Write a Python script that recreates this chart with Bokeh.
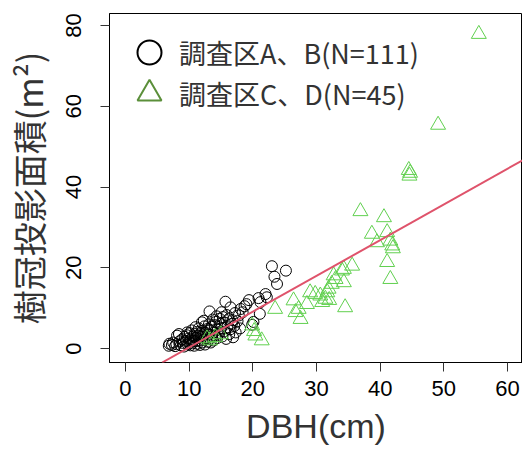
from bokeh.plotting import figure
from bokeh.models import Slope, Legend, LegendItem, FixedTicker, ColumnDataSource
from bokeh.embed import file_html
from bokeh.resources import INLINE

# --- data ---
ab_dbh = [23.0, 25.2, 23.4, 23.8, 22.0, 20.9, 21.1, 19.9, 20.1, 19.4, 19.0, 18.7, 15.7, 13.2, 22.2,
          21.2, 18.1, 16.5, 15.9, 17.2, 12.3, 14.8, 16.8, 17.8, 18.4,
          6.8, 6.9, 7.3, 7.5, 7.8, 8.0, 8.1, 8.4, 8.5, 8.7, 8.9, 9.0,
          9.2, 9.3, 9.5, 9.6, 9.7, 9.8, 9.9, 10.0, 10.1, 10.2, 10.3, 10.4, 10.5, 10.6, 10.7, 10.8, 10.9, 11.0, 11.0,
          11.1, 11.2, 11.3, 11.4, 11.5, 11.6, 11.7, 11.8, 11.9, 12.0, 12.0, 12.1, 12.2, 12.3, 12.4, 12.5, 12.6, 12.7, 12.8, 12.9,
          13.0, 13.1, 13.2, 13.3, 13.4, 13.5, 13.6, 13.7, 13.8, 13.9, 14.0, 14.1, 14.2, 14.4, 14.5, 14.7, 14.9, 15.0,
          15.2, 15.3, 15.5, 15.6, 15.8, 16.0, 16.2, 16.3, 16.5, 16.7, 16.9, 17.1, 17.3, 17.6, 18.0, 15.1, 14.3]
ab_area = [20.4, 19.3, 17.8, 16.0, 13.5, 12.5, 8.6, 5.9, 6.6, 12.0, 11.0, 10.5, 11.6, 9.2, 12.7,
           11.5, 9.8, 10.2, 8.3, 8.8, 6.9, 7.4, 7.0, 8.2, 9.0,
           0.7, 1.2, 0.9, 1.5, 0.6, 1.1, 3.2, 3.6, 1.8, 0.8, 2.3, 1.4,
           0.5, 2.9, 1.9, 3.3, 4.0, 1.0, 2.5, 1.6, 3.8, 0.8, 2.2, 4.5, 1.3, 3.0, 2.0, 0.7, 3.6, 5.3, 1.8,
           2.6, 4.1, 1.2, 3.2, 5.0, 2.0, 0.9, 3.8, 2.8, 6.5, 1.5, 4.4, 3.3, 2.2, 5.5, 1.0, 3.9, 2.6, 4.8, 1.7,
           3.5, 6.0, 2.4, 4.5, 1.5, 5.4, 3.1, 7.2, 2.0, 4.0, 5.8, 3.3, 6.6, 2.6, 4.7, 3.8, 6.1, 5.0,
           3.0, 7.8, 4.2, 6.4, 2.4, 5.3, 7.3, 3.6, 4.8, 6.1, 2.8, 5.6, 4.0, 6.8, 5.0, 9.0, 8.0]

cd_dbh = [55.5, 49.1, 44.5, 44.7, 44.6, 36.9, 40.6, 38.7, 41.1, 41.6, 39.5, 41.9, 41.1, 41.6, 35.6,
          34.3, 34.0, 32.7, 34.3, 32.4, 31.7, 30.6, 31.4, 29.8, 29.0, 30.9, 34.5, 26.4, 27.2, 26.7,
          23.5, 27.5, 31.9, 33.0, 19.9, 20.2, 20.4, 21.4, 14.1, 13.3, 12.8, 42.0, 28.5, 32.0, 15.0]
cd_area = [77.9, 55.4, 44.2, 43.5, 42.8, 34.0, 32.5, 28.4, 28.8, 26.7, 26.3, 25.5, 21.4, 17.2, 20.5,
           19.7, 19.3, 18.1, 16.4, 16.0, 13.9, 13.1, 12.3, 13.5, 13.9, 11.5, 10.2, 11.9, 9.8, 9.0,
           9.8, 7.3, 14.8, 17.2, 5.7, 4.3, 3.2, 2.0, 2.8, 2.0, 2.5, 24.8, 11.0, 12.0, 3.5]

fit_slope = 0.885
fit_intercept = -8.55

x_ticks = [0, 10, 20, 30, 40, 50, 60]
y_ticks = [0, 20, 40, 60, 80]

label_ab = "調査区A、B(N=111)"
label_cd = "調査区C、D(N=45)"
x_title = "DBH(cm)"
y_title = "樹冠投影面積(m²)"

# --- figure ---
p = figure(width=522, height=452, x_range=(-2.51, 62.36), y_range=(-3.45, 82.99),
           output_backend="svg", toolbar_location=None,
           min_border_left=109, min_border_right=0, min_border_top=13, min_border_bottom=90)
p.grid.visible = False
p.outline_line_color = "black"
p.outline_line_width = 1
p.background_fill_color = "white"
p.border_fill_color = "white"

src_ab = ColumnDataSource(dict(x=ab_dbh, y=ab_area))
src_cd = ColumnDataSource(dict(x=cd_dbh, y=cd_area))

p.scatter("x", "y", source=src_ab, marker="circle", size=11, fill_color=None,
          line_color="black", line_width=1)
p.scatter("x", "y", source=src_cd, marker="triangle", size=15, fill_color=None,
          line_color="#61D04F", line_width=1)

p.add_layout(Slope(gradient=fit_slope, y_intercept=fit_intercept,
                   line_color="#DF536B", line_width=2))

# legend key renderers (hidden; only their styling is used by the legend)
leg_ab = p.scatter("x", "y", source=src_ab, marker="circle", size=24, fill_color=None,
                   line_color="black", line_width=2, visible=False)
leg_cd = p.scatter("x", "y", source=src_cd, marker="triangle", size=24, fill_color=None,
                   line_color="#5B8F3A", line_width=2, visible=False)

common = dict(glyph_width=60, glyph_height=60, spacing=0, label_standoff=0, padding=8, margin=0,
              border_line_alpha=0, background_fill_alpha=0, inactive_fill_alpha=0,
              label_text_font="Noto Sans CJK JP", label_text_font_size="27px",
              label_text_color="#333333")
legend1 = Legend(items=[LegendItem(label=label_ab, renderers=[leg_ab])], location=(2, 272), **common)
legend2 = Legend(items=[LegendItem(label=label_cd, renderers=[leg_cd])], location=(2, 231), **common)
p.add_layout(legend1)
p.add_layout(legend2)

for ax in (p.xaxis[0], p.yaxis[0]):
    ax.axis_line_color = "black"
    ax.major_tick_line_color = "#333333"
    ax.major_tick_in = 0
    ax.major_tick_out = 9
    ax.minor_tick_line_color = None
    ax.major_label_text_font = "Liberation Sans"
    ax.major_label_text_font_size = "22px"
    ax.major_label_text_color = "black"
    ax.axis_label_text_font_style = "normal"
    ax.axis_label_text_color = "#333333"

p.xaxis[0].ticker = FixedTicker(ticks=x_ticks)
p.yaxis[0].ticker = FixedTicker(ticks=y_ticks)
p.xaxis[0].major_label_standoff = 9
p.yaxis[0].major_label_standoff = 19
p.yaxis[0].major_label_orientation = "vertical"

p.xaxis[0].axis_label = x_title
p.xaxis[0].axis_label_text_font = "Liberation Sans"
p.xaxis[0].axis_label_text_font_size = "34px"
p.xaxis[0].axis_label_standoff = 8

p.yaxis[0].axis_label = y_title
p.yaxis[0].axis_label_text_font = "Noto Sans CJK JP"
p.yaxis[0].axis_label_text_font_size = "34px"
p.yaxis[0].axis_label_standoff = 11

open("out.html", "w").write(file_html(p, INLINE))
